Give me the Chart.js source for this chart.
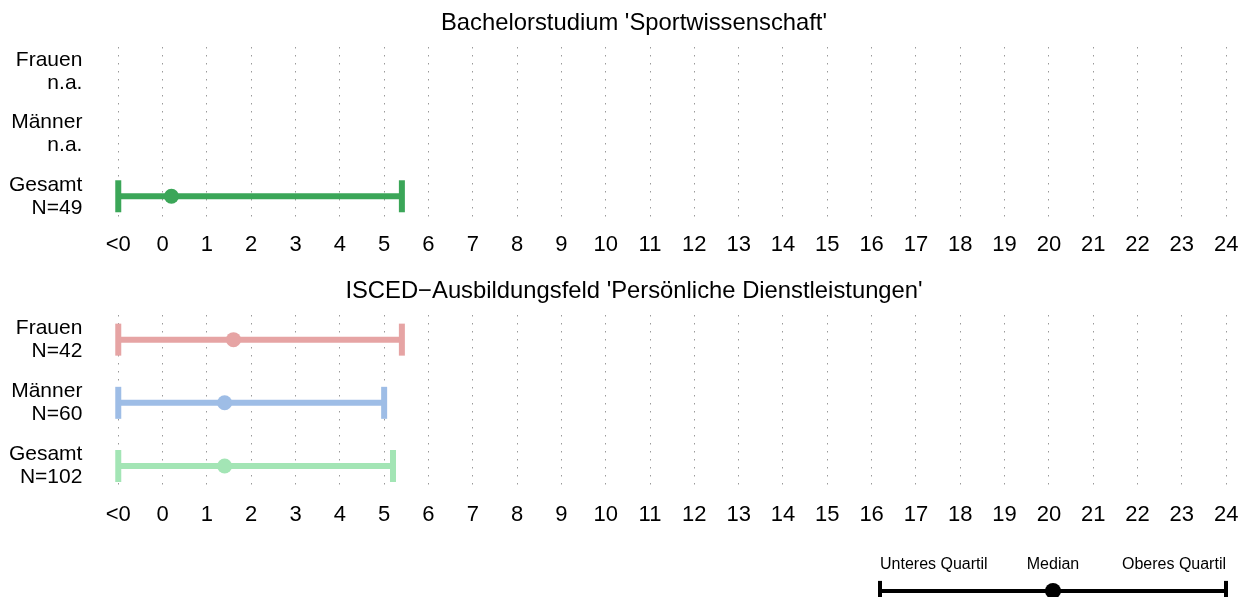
<!DOCTYPE html>
<html><head><meta charset="utf-8">
<script src="https://cdn.jsdelivr.net/npm/chart.js@4.4.0/dist/chart.umd.min.js"></script>
<style>
html,body{margin:0;padding:0;background:#fff;width:1240px;height:597px;overflow:hidden;}
.box{position:absolute;left:0;width:1240px;}
canvas{display:block;}
</style></head><body>
<div class="box" style="top:0;height:259px"><canvas id="c1"></canvas></div>
<div class="box" style="top:268px;height:261px"><canvas id="c2"></canvas></div>
<div class="box" style="top:540px;left:860px;width:380px;height:57px"><canvas id="c3"></canvas></div>
<script>
const FONT = "'Liberation Sans', Arial, Helvetica, sans-serif";
const groups = ['Frauen', 'Männer', 'Gesamt'];

const panel1Title = "Bachelorstudium 'Sportwissenschaft'";
const panel1N = ['n.a.', 'n.a.', 'N=49'];
const panel1Lower = [null, null, -1];
const panel1Median = [null, null, 0.2];
const panel1Upper = [null, null, 5.4];
const panel1Colors = ['#3BA658', '#3BA658', '#3BA658'];

const panel2Title = "ISCED\u2212Ausbildungsfeld 'Persönliche Dienstleistungen'";
const panel2N = ['N=42', 'N=60', 'N=102'];
const panel2Lower = [-1, -1, -1];
const panel2Median = [1.6, 1.4, 1.4];
const panel2Upper = [5.4, 5.0, 5.2];
const panel2Colors = ['#E6A4A4', '#9EBDE6', '#A3E5B5'];

const xTickValues = [-1, 0, 1, 2, 3, 4, 5, 6, 7, 8, 9, 10, 11, 12, 13, 14, 15, 16, 17, 18, 19, 20, 21, 22, 23, 24];
const xTickLabels = ['<0', '0', '1', '2', '3', '4', '5', '6', '7', '8', '9', '10', '11', '12', '13', '14', '15', '16', '17', '18', '19', '20', '21', '22', '23', '24'];

const legendLabels = ['Unteres Quartil', 'Median', 'Oberes Quartil'];
const legendValues = [0, 0.5, 1];

const TITLE_CENTER_X = 634;
const TITLE_CENTER_Y = 23.5;

function panelTitlePlugin(text) {
  return {
    id: 'panelTitle',
    afterDraw(chart) {
      const ctx = chart.ctx;
      ctx.save();
      ctx.fillStyle = '#000';
      ctx.font = '23.8px ' + FONT;
      ctx.textAlign = 'center';
      ctx.textBaseline = 'middle';
      ctx.fillText(text, TITLE_CENTER_X, TITLE_CENTER_Y);
      ctx.restore();
    }
  };
}

function makePanel(id, title, nLabels, lower, median, upper, colors) {
  const datasets = [];
  groups.forEach((g, i) => {
    if (median[i] === null) return;
    datasets.push({
      type: 'scatter', data: [{x: median[i], y: i}],
      pointRadius: 7.5, pointHoverRadius: 7.5, pointBackgroundColor: colors[i],
      pointBorderWidth: 0, order: 0, clip: false
    });
    datasets.push({
      type: 'line', data: [{x: lower[i], y: i}, {x: upper[i], y: i}],
      borderColor: colors[i], borderWidth: 6, pointStyle: 'line', pointRotation: 90,
      pointRadius: 16, pointHoverRadius: 16, pointBorderColor: colors[i],
      pointBorderWidth: 6, pointHoverBorderWidth: 6, fill: false, tension: 0, order: 1, clip: false
    });
  });
  return new Chart(document.getElementById(id), {
    type: 'scatter',
    data: {datasets},
    options: {
      animation: false, responsive: true, maintainAspectRatio: false,
      events: [],
      layout: {autoPadding: false, padding: {left: 0, right: 5, top: 47, bottom: 0}},
      plugins: {legend: {display: false}, tooltip: {enabled: false}, title: {display: false}},
      scales: {
        x: {
          type: 'linear', min: -1.2, max: 24.2,
          afterBuildTicks: s => { s.ticks = xTickValues.map(v => ({value: v})); },
          afterFit: s => { s.height = 39; s.paddingLeft = 0; s.paddingRight = 0; },
          ticks: {autoSkip: false, maxRotation: 0, padding: 12, color: '#000',
            font: {family: FONT, size: 22}, callback: (v, i) => xTickLabels[i]},
          grid: {color: '#9a9a9a', lineWidth: 1, drawTicks: false},
          border: {display: false, dash: [1.5, 6.5]}
        },
        y: {
          type: 'linear', reverse: true, min: -0.39, max: 2.38,
          afterBuildTicks: s => { s.ticks = groups.map((g, i) => ({value: i})); },
          afterFit: s => { s.width = 109.4; s.paddingTop = 0; s.paddingBottom = 0; },
          ticks: {padding: 27, color: '#000', font: {family: FONT, size: 21, lineHeight: 1.1},
            callback: (v, i) => [groups[i], nLabels[i]]},
          grid: {display: false, drawTicks: false}, border: {display: false}
        }
      }
    },
    plugins: [panelTitlePlugin(title)]
  });
}

makePanel('c1', panel1Title, panel1N, panel1Lower, panel1Median, panel1Upper, panel1Colors);
makePanel('c2', panel2Title, panel2N, panel2Lower, panel2Median, panel2Upper, panel2Colors);

const legendText = {
  id: 'legendText',
  afterDraw(chart) {
    const ctx = chart.ctx, xs = chart.scales.x;
    const aligns = ['left', 'center', 'right'];
    ctx.save();
    ctx.fillStyle = '#000';
    ctx.font = '16px ' + FONT;
    ctx.textBaseline = 'middle';
    legendLabels.forEach((t, i) => {
      ctx.textAlign = aligns[i];
      ctx.fillText(t, xs.getPixelForValue(legendValues[i]), 25);
    });
    ctx.restore();
  }
};

new Chart(document.getElementById('c3'), {
  type: 'scatter',
  data: {datasets: [
    {data: [{x: legendValues[1], y: 0}], pointRadius: 8, pointHoverRadius: 8,
      pointBackgroundColor: '#000', pointBorderWidth: 0, order: 0, clip: false},
    {type: 'line', data: [{x: legendValues[0], y: 0}, {x: legendValues[2], y: 0}],
      borderColor: '#000', borderWidth: 4, pointStyle: 'line', pointRotation: 90,
      pointRadius: 10, pointHoverRadius: 10, pointBorderColor: '#000', pointBorderWidth: 4,
      fill: false, order: 1, clip: false}
  ]},
  options: {
    animation: false, responsive: true, maintainAspectRatio: false, events: [],
    layout: {autoPadding: false, padding: {left: 20, right: 14, top: 0, bottom: 0}},
    plugins: {legend: {display: false}, tooltip: {enabled: false}},
    scales: {x: {type: 'linear', min: 0, max: 1, display: false},
             y: {type: 'linear', min: -0.12, max: 1, display: false}}
  },
  plugins: [legendText]
});
</script>
</body></html>
